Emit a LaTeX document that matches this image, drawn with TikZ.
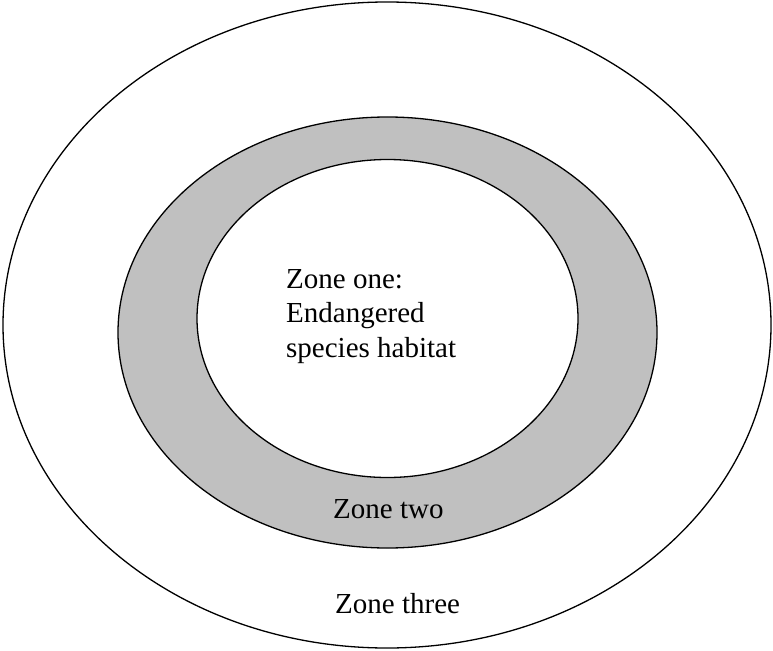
\documentclass[tikz,border=0pt]{standalone}
\usepackage{fontspec}
\setmainfont{Liberation Serif}
\definecolor{zonegray}{HTML}{C0C0C0}
\begin{document}
\begin{tikzpicture}[x=1pt,y=-1pt,
  ring/.style={draw=black,line width=1.3pt},
  label/.style={inner sep=0pt,font=\fontsize{29}{34.5}\selectfont,align=left,anchor=base west}]
  \useasboundingbox (0,0) rectangle (773,650);
  % outer zone
  \draw[ring,fill=white] (387,325) ellipse [x radius=384, y radius=323];
  % buffer ring
  \draw[ring,fill=zonegray] (387.5,332.5) ellipse [x radius=269.5, y radius=215.5];
  % core habitat
  \draw[ring,fill=white] (387.5,318.5) ellipse [x radius=190.5, y radius=159];
  % the base anchor of a multi-line node sits on its last line
  \node[label] (one) at (286,357) {Zone one:\\Endangered\\species habitat};
  \node[label] (two) at (333,518) {Zone two};
  \node[label] (three) at (335,613) {Zone three};
\end{tikzpicture}
\end{document}
